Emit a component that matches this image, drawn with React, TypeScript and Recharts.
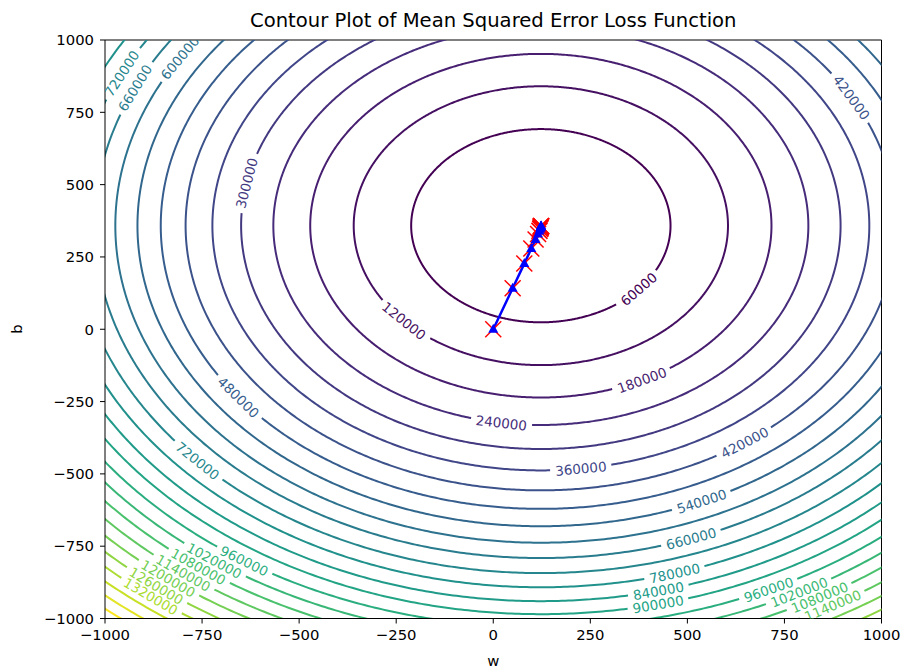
import { ComposedChart, Line, XAxis, YAxis, ReferenceLine } from "recharts";

// contour levels of the loss surface
const LEVELS = [
  60000, 120000, 180000, 240000, 300000, 360000, 420000, 480000, 540000,
  600000, 660000, 720000, 780000, 840000, 900000, 960000, 1020000, 1080000,
  1140000, 1200000, 1260000, 1320000, 1380000, 1440000, 1500000,
];
// distance of each contour from the minimum (w/b units)
const RADII = [
  334, 482, 594, 689, 772, 846, 915, 979, 1039, 1096, 1149, 1201, 1250, 1298,
  1343, 1388, 1431, 1472, 1513, 1552, 1591, 1628, 1665, 1701, 1736,
];
const MIN_W = 122.6;
const MIN_B = 358;

// inline contour labels: level and where on the ring it sits (degrees)
const LABEL_LEVELS = [
  60000, 120000, 180000, 240000, 300000, 360000, 420000, 420000, 480000,
  540000, 600000, 660000, 660000, 720000, 720000, 780000, 840000, 900000,
  960000, 960000, 1020000, 1020000, 1080000, 1080000, 1140000, 1140000,
  1200000, 1260000, 1320000,
];
const LABEL_ANGLES = [
  -41, -137, -64, -98.5, 169, -83, 29, -55, -142.7, -66.5, 148, 155.5, -70.3,
  154, -137.4, -74, -76.5, -77, -123.4, -65, -126, -62.3, -126.8, -60.8,
  -127.5, -60.2, -128.2, -128.5, -128.1,
];

// gradient descent steps
const PATH_W = [0, 50, 80, 98, 109, 115.5, 119, 121, 122, 122.5, 122.8, 123, 123.1, 123.2];
const PATH_B = [0, 142, 227, 279, 310, 329, 340, 347, 351, 353.5, 355, 356, 356.6, 357];

const TICKS = [-1000, -750, -500, -250, 0, 250, 500, 750, 1000];

const W = 903;
const H = 671;
const PLOT_LEFT = 105;
const PLOT_TOP = 40;
const PLOT_W = 776.5;
const PLOT_H = 578.5;
const SX = PLOT_W / 2000;
const SY = PLOT_H / 2000;
const FONT = "'DejaVu Sans', sans-serif";
const LABEL_SIZE = 13.5;

const VIRIDIS = [
  "#440154", "#482475", "#414487", "#355f8d", "#2a788e", "#21918c",
  "#22a884", "#44bf70", "#7ad151", "#bddf26", "#fde725",
];

function hexToRgb(h: string) {
  return [1, 3, 5].map((i) => parseInt(h.slice(i, i + 2), 16));
}

function viridis(level: number) {
  const lo = LEVELS[0];
  const hi = LEVELS[LEVELS.length - 1];
  const t = Math.min(1, Math.max(0, (level - lo) / (hi - lo))) * 10;
  const i = Math.min(9, Math.floor(t));
  const f = t - i;
  const a = hexToRgb(VIRIDIS[i]);
  const b = hexToRgb(VIRIDIS[i + 1]);
  const c = a.map((v, k) => Math.round(v + (b[k] - v) * f));
  return `rgb(${c[0]},${c[1]},${c[2]})`;
}

const rad = (d: number) => (d * Math.PI) / 180;

function arc(r: number, from: number, to: number) {
  const n = Math.max(2, Math.ceil((to - from) / 0.4));
  const pts: { w: number; b: number | null }[] = [];
  for (let i = 0; i <= n; i++) {
    const t = rad(from + ((to - from) * i) / n);
    pts.push({ w: MIN_W + r * Math.cos(t), b: MIN_B + r * Math.sin(t) });
  }
  return pts;
}

function halfGapDeg(r: number, theta: number, text: string) {
  const half = (text.length * 0.636 * LABEL_SIZE) / 2 + 5;
  const t = rad(theta);
  const speed = r * Math.sqrt((SX * Math.sin(t)) ** 2 + (SY * Math.cos(t)) ** 2);
  return ((half / speed) * 180) / Math.PI;
}

const contours = LEVELS.map((level, li) => {
  const r = RADII[li];
  const gaps = LABEL_LEVELS.map((l, i) => ({ l, a: LABEL_ANGLES[i] }))
    .filter((g) => g.l === level)
    .map((g) => {
      const a = ((g.a % 360) + 360) % 360;
      const h = halfGapDeg(r, g.a, String(level));
      return [a - h, a + h];
    })
    .sort((p, q) => p[0] - q[0]);
  let data: { w: number; b: number | null }[] = [];
  if (gaps.length === 0) {
    data = arc(r, 0, 360);
  } else {
    for (let i = 0; i < gaps.length; i++) {
      const start = gaps[i][1];
      const end = i + 1 < gaps.length ? gaps[i + 1][0] : gaps[0][0] + 360;
      const seg = arc(r, start, end);
      data = data.concat(seg);
      data.push({ w: seg[seg.length - 1].w, b: null });
    }
  }
  return { level, color: viridis(level), data };
});

const labelData = LABEL_LEVELS.map((level, i) => {
  const r = RADII[LEVELS.indexOf(level)];
  const t = rad(LABEL_ANGLES[i]);
  let rot = (Math.atan2(-Math.cos(t) * SY, -Math.sin(t) * SX) * 180) / Math.PI;
  if (rot > 90) rot -= 180;
  if (rot < -90) rot += 180;
  return {
    w: MIN_W + r * Math.cos(t),
    b: MIN_B + r * Math.sin(t),
    text: String(level),
    color: viridis(level),
    rot,
  };
});

const pathData = PATH_W.map((w, i) => ({ w, b: PATH_B[i] }));

const fmt = (v: number) => (v < 0 ? `\u2212${Math.abs(v)}` : String(v));

const LabelDot = (props: any) => {
  const { cx, cy, payload, index } = props;
  return (
    <text
      key={`lbl-${index}`}
      x={cx}
      y={cy}
      transform={`rotate(${payload.rot} ${cx} ${cy})`}
      textAnchor="middle"
      dominantBaseline="central"
      fontSize={LABEL_SIZE}
      fontFamily={FONT}
      fill={payload.color}
    >
      {payload.text}
    </text>
  );
};

const CrossDot = (props: any) => {
  const { cx, cy, index } = props;
  const h = 8;
  return (
    <g key={`x-${index}`}>
      <line x1={cx - h} y1={cy - h} x2={cx + h} y2={cy + h} stroke="#ff0000" strokeWidth={1.5} />
      <line x1={cx - h} y1={cy + h} x2={cx + h} y2={cy - h} stroke="#ff0000" strokeWidth={1.5} />
    </g>
  );
};

const TriDot = (props: any) => {
  const { cx, cy, index } = props;
  return (
    <polygon
      key={`t-${index}`}
      points={`${cx},${cy - 5.5} ${cx - 5},${cy + 3.5} ${cx + 5},${cy + 3.5}`}
      fill="#0000ff"
    />
  );
};

const tickStyle = { fill: "#000", fontSize: 14.8, fontFamily: FONT };

export default function App() {
  return (
    <div style={{ position: "relative", width: W, height: H, background: "#fff", fontFamily: FONT }}>
      <style>{"body{margin:0}"}</style>
      <ComposedChart
        width={W}
        height={H}
        margin={{ top: PLOT_TOP, right: W - PLOT_LEFT - PLOT_W, bottom: 0.5, left: 45 }}
      >
        <XAxis
          type="number"
          dataKey="w"
          domain={[-1000, 1000]}
          allowDataOverflow
          ticks={TICKS}
          interval={0}
          tickFormatter={fmt}
          tickSize={5}
          tickMargin={6}
          height={52}
          tick={tickStyle}
          axisLine={{ stroke: "#000" }}
          tickLine={{ stroke: "#000" }}
        />
        <YAxis
          type="number"
          dataKey="b"
          domain={[-1000, 1000]}
          allowDataOverflow
          ticks={TICKS}
          interval={0}
          tickFormatter={fmt}
          tickSize={5}
          tickMargin={6}
          width={60}
          tick={tickStyle}
          axisLine={{ stroke: "#000" }}
          tickLine={{ stroke: "#000" }}
        />
        <ReferenceLine y={1000} stroke="#000" />
        <ReferenceLine x={1000} stroke="#000" />
        {contours.map((c) => (
          <Line
            key={c.level}
            data={c.data}
            dataKey="b"
            type="linear"
            stroke={c.color}
            strokeWidth={2}
            dot={false}
            activeDot={false}
            connectNulls={false}
            isAnimationActive={false}
          />
        ))}
        <Line
          data={labelData}
          dataKey="b"
          stroke="none"
          dot={LabelDot}
          activeDot={false}
          isAnimationActive={false}
        />
        <Line
          data={pathData}
          dataKey="b"
          stroke="none"
          dot={CrossDot}
          activeDot={false}
          isAnimationActive={false}
        />
        <Line
          data={pathData}
          dataKey="b"
          type="linear"
          stroke="#0000ff"
          strokeWidth={2.5}
          dot={TriDot}
          activeDot={false}
          isAnimationActive={false}
        />
      </ComposedChart>
      <div
        style={{
          position: "absolute",
          left: PLOT_LEFT,
          width: PLOT_W,
          top: 9,
          textAlign: "center",
          fontSize: 19.6,
          lineHeight: "23px",
          color: "#000",
        }}
      >
        Contour Plot of Mean Squared Error Loss Function
      </div>
      <div
        style={{
          position: "absolute",
          left: PLOT_LEFT,
          width: PLOT_W,
          top: 653,
          textAlign: "center",
          fontSize: 14.8,
          lineHeight: "16px",
          color: "#000",
        }}
      >
        w
      </div>
      <div
        style={{
          position: "absolute",
          left: 17 - 10,
          top: PLOT_TOP + PLOT_H / 2 - 8,
          width: 20,
          textAlign: "center",
          fontSize: 14.8,
          lineHeight: "16px",
          color: "#000",
          transform: "rotate(-90deg)",
        }}
      >
        b
      </div>
    </div>
  );
}
